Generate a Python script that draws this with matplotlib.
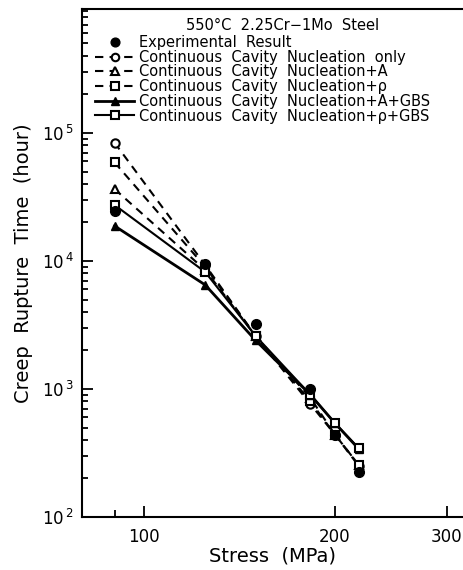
import matplotlib.pyplot as plt
from matplotlib.ticker import FixedLocator, NullFormatter

stress = [90, 125, 150, 183, 200, 218]

exp_time = [2.45e4, 9.5e3, 3.2e3, 1.0e3, 4.4e2, 2.25e2]
ccn_only = [8.4e4, 9.3e3, 2.6e3, 7.6e2, 4.4e2, 2.5e2]
ccn_a = [3.65e4, 8.5e3, 2.6e3, 8.5e2, 4.4e2, 2.55e2]
ccn_rho = [5.9e4, 9.0e3, 2.6e3, 8.0e2, 4.4e2, 2.55e2]
ccn_a_gbs = [1.88e4, 6.5e3, 2.4e3, 9.0e2, 5.4e2, 3.4e2]
ccn_rho_gbs = [2.74e4, 8.2e3, 2.6e3, 9.0e2, 5.4e2, 3.45e2]

labels = ['Experimental  Result',
          'Continuous  Cavity  Nucleation  only',
          'Continuous  Cavity  Nucleation+A',
          u'Continuous  Cavity  Nucleation+\u03c1',
          'Continuous  Cavity  Nucleation+A+GBS',
          u'Continuous  Cavity  Nucleation+\u03c1+GBS']

fig = plt.figure(figsize=(4.64, 5.70), dpi=100)
ax = fig.add_axes([82/464, 53/570, 381/464, 508/570])

ax.plot(stress, exp_time, 'o', color='black', markersize=7, label=labels[0], zorder=5)
ax.plot(stress, ccn_only, '--o', color='black', lw=1.5, markersize=6,
        markerfacecolor='white', markeredgewidth=1.5, dashes=(4, 3), label=labels[1])
ax.plot(stress, ccn_a, '--^', color='black', lw=1.5, markersize=6,
        markerfacecolor='white', markeredgewidth=1.5, dashes=(4, 3), label=labels[2])
ax.plot(stress, ccn_rho, '--s', color='black', lw=1.5, markersize=6,
        markerfacecolor='white', markeredgewidth=1.5, dashes=(4, 3), label=labels[3])
ax.plot(stress, ccn_a_gbs, '-^', color='black', lw=2, markersize=6,
        markerfacecolor='black', label=labels[4])
ax.plot(stress, ccn_rho_gbs, '-s', color='black', lw=1.5, markersize=6,
        markerfacecolor='white', markeredgewidth=1.5, label=labels[5])

ax.set_xscale('log')
ax.set_yscale('log')
ax.set_xlim(80, 318)
ax.set_ylim(1e2, 9.3e5)

ax.xaxis.set_major_locator(FixedLocator([100, 200, 300]))
ax.xaxis.set_minor_locator(FixedLocator([90]))
ax.set_xticklabels(['100', '200', '300'])
ax.xaxis.set_minor_formatter(NullFormatter())

yt = [1e2, 1e3, 1e4, 1e5]
ax.yaxis.set_major_locator(FixedLocator(yt))
ax.set_yticklabels([r'10$^{\,2}$', r'10$^{\,3}$', r'10$^{\,4}$', r'10$^{\,5}$'])
ax.yaxis.set_minor_locator(FixedLocator([m * 10**e for e in range(2, 6) for m in range(2, 10)]))
ax.yaxis.set_minor_formatter(NullFormatter())

ax.tick_params(which='both', direction='in', width=1.3, labelsize=12, pad=6)
ax.tick_params(which='major', length=8)
ax.tick_params(which='minor', length=5)
ax.tick_params(axis='y', which='minor', length=4)
ax.tick_params(axis='x', pad=8)

for s in ['left', 'bottom', 'top']:
    ax.spines[s].set_linewidth(1.5)
ax.spines['right'].set_visible(False)

ax.set_xlabel('Stress  (MPa)', fontsize=14, labelpad=0)
ax.set_ylabel('Creep  Rupture  Time  (hour)', fontsize=14, labelpad=6)

fig.text(283/464, 1 - 25/570, u'550\u00b0C  2.25Cr\u22121Mo  Steel', fontsize=10.5,
         ha='center', va='center')

ax.legend(loc='upper left', bbox_to_anchor=(95/464, 1 - 35/570),
          bbox_transform=fig.transFigure, frameon=False, fontsize=10.5,
          handlelength=2.7, handletextpad=0.3, labelspacing=-0.02, borderpad=0,
          borderaxespad=0, markerscale=0.9)

plt.savefig('out.png', dpi=100)
